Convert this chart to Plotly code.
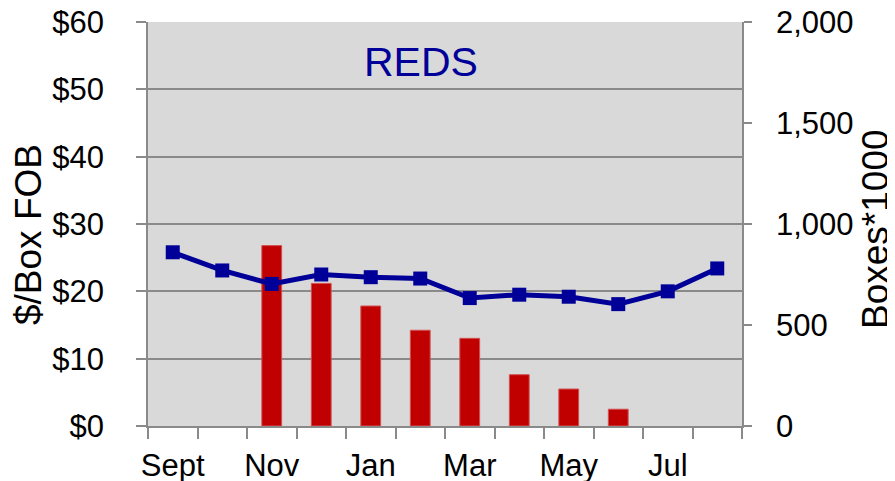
import plotly.graph_objects as go

months = ["Sept", "Oct", "Nov", "Dec", "Jan", "Feb", "Mar", "Apr", "May", "Jun", "Jul", "Aug"]
price = [25.8, 23.1, 21.1, 22.5, 22.1, 21.9, 19.0, 19.5, 19.2, 18.1, 20.0, 23.4]
boxes = [None, None, 893, 706, 594, 474, 434, 254, 183, 83, None, None]
tick_labels = ["Sept", "Nov", "Jan", "Mar", "May", "Jul"]

x_idx = list(range(len(months)))
label_pos = [months.index(m) for m in tick_labels]
boundaries = [i - 0.5 for i in range(len(months) + 1)]

GRAY = "#8a8a8a"
FONT = "Liberation Sans, Arial, sans-serif"

fig = go.Figure()
fig.add_trace(go.Bar(
    x=x_idx, y=boxes, width=0.4, yaxis="y",
    marker=dict(color="#C00000", line=dict(color="#D25050", width=1)),
    name="Boxes", showlegend=False,
))
fig.add_trace(go.Scatter(
    x=x_idx, y=price, yaxis="y2", mode="lines+markers",
    line=dict(color="#000099", width=5),
    marker=dict(symbol="square", size=14, color="#000099"),
    name="$/Box FOB", showlegend=False,
))

# page body has an 8px margin, so the figure is 8px smaller and offset
fig.update_layout(
    width=887, height=473,
    margin=dict(l=140, r=153, t=14, b=55),
    paper_bgcolor="white", plot_bgcolor="#d9d9d9",
    font=dict(family=FONT, size=31, color="black"),
    xaxis=dict(
        range=[-0.5, 11.5], tickmode="array", tickvals=label_pos, ticktext=tick_labels,
        ticks="", showgrid=False, zeroline=False, automargin=False,
        showline=True, linecolor=GRAY, linewidth=1.5,
        ticklabelstandoff=11, ticklabeloverflow="allow",
        minor=dict(tickmode="array", tickvals=boundaries, ticks="outside",
                   ticklen=11, tickwidth=1.5, tickcolor=GRAY, showgrid=False),
        anchor="y",
    ),
    yaxis=dict(
        range=[0, 2000], dtick=500, tickformat=",", side="right",
        ticks="outside", ticklen=8, tickwidth=1.5, tickcolor=GRAY,
        showline=True, linecolor=GRAY, linewidth=1.5, automargin=False,
        showgrid=False, zeroline=False, ticklabelstandoff=18,
        ticklabeloverflow="allow",
    ),
    yaxis2=dict(
        range=[0, 60], dtick=10, tickprefix="$", side="left", overlaying="y",
        ticks="outside", ticklen=10, tickwidth=1.5, tickcolor=GRAY,
        showline=True, linecolor=GRAY, linewidth=1.5, automargin=False,
        showgrid=True, gridcolor=GRAY, gridwidth=1.5, zeroline=False,
        ticklabelstandoff=26, ticklabeloverflow="allow",
    ),
    annotations=[
        dict(text="REDS", x=(421 - 148) / 594, y=(426 - 62) / 404, xref="paper", yref="paper",
             xanchor="center", yanchor="middle", showarrow=False,
             font=dict(family=FONT, size=41, color="#000099")),
        dict(text="$/Box FOB", x=(28 - 148) / 594, y=(426 - 235) / 404, xref="paper", yref="paper",
             xanchor="center", yanchor="middle", showarrow=False, textangle=-90,
             font=dict(family=FONT, size=37, color="black")),
        dict(text="Boxes*1000", x=(875 - 148) / 594, y=(426 - 229) / 404, xref="paper", yref="paper",
             xanchor="center", yanchor="middle", showarrow=False, textangle=-90,
             font=dict(family=FONT, size=37, color="black")),
    ],
)

fig.write_html("out.html")
